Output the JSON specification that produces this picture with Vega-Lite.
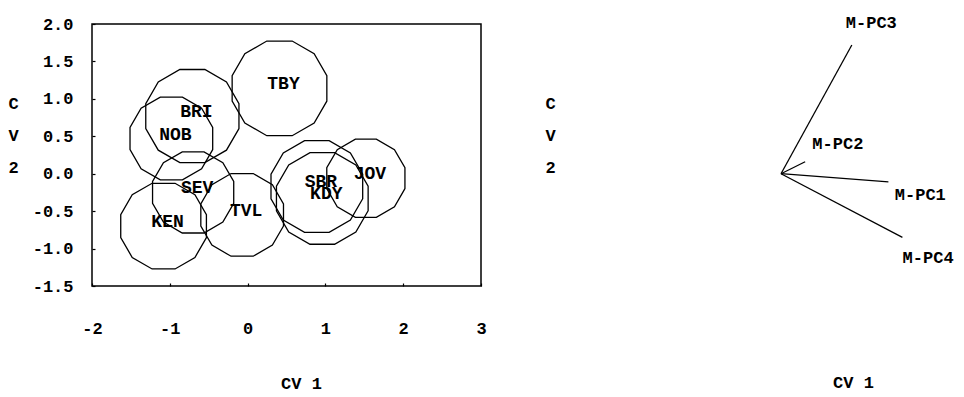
{
  "$schema": "https://vega.github.io/schema/vega-lite/v6.json",
  "padding": {"left": 7, "top": 14, "right": 0, "bottom": 5},
  "background": "white",
  "spacing": 57,
  "config": {
    "font": "Liberation Mono",
    "view": {"stroke": null},
    "axis": {
      "grid": false,
      "domain": false,
      "labelFont": "Liberation Mono",
      "labelFontSize": 17,
      "labelFontWeight": "bold",
      "labelColor": "black",
      "titleFont": "Liberation Mono",
      "titleFontSize": 17,
      "titleFontWeight": "bold",
      "titleColor": "black",
      "tickColor": "black",
      "tickWidth": 1.2
    }
  },
  "hconcat": [
    {
      "width": 389,
      "height": 262,
      "view": {"stroke": "black", "strokeWidth": 1.5},
      "data": {
        "values": [
          {"group": "TBY", "cv1": 0.41, "cv2": 1.14, "radius": 0.63},
          {"group": "BRI", "cv1": -0.71, "cv2": 0.77, "radius": 0.62},
          {"group": "NOB", "cv1": -0.98, "cv2": 0.47, "radius": 0.55},
          {"group": "SEV", "cv1": -0.70, "cv2": -0.25, "radius": 0.54},
          {"group": "KEN", "cv1": -1.08, "cv2": -0.70, "radius": 0.57},
          {"group": "TVL", "cv1": -0.07, "cv2": -0.55, "radius": 0.55},
          {"group": "SBR", "cv1": 0.89, "cv2": -0.17, "radius": 0.61},
          {"group": "KDY", "cv1": 0.96, "cv2": -0.33, "radius": 0.61},
          {"group": "JOV", "cv1": 1.52, "cv2": -0.06, "radius": 0.52}
        ]
      },
      "encoding": {
        "x": {
          "field": "cv1",
          "type": "quantitative",
          "scale": {"domain": [-2, 3], "nice": false, "zero": false},
          "axis": {
            "values": [-2, -1, 0, 1, 2, 3],
            "labelExpr": "toString(datum.value)",
            "tickSize": -3,
            "labelPadding": 37,
            "title": "CV 1",
            "titleAlign": "center",
            "titleBaseline": "middle",
            "titleX": 209,
            "titleY": 97,
            "labelFlush": false
          }
        },
        "y": {
          "field": "cv2",
          "type": "quantitative",
          "scale": {"domain": [-1.5, 2], "nice": false, "zero": false},
          "axis": {
            "values": [-1.5, -1, -0.5, 0, 0.5, 1, 1.5, 2],
            "labelExpr": "datum.value < 0 ? '-' + format(-datum.value, '.1f') : format(datum.value, '.1f')",
            "tickSize": -3,
            "labelPadding": 22,
            "labelFlush": false,
            "title": ["C", "V", "", "2"],
            "titleAngle": 0,
            "titleAlign": "center",
            "titleBaseline": "middle",
            "titleLineHeight": 32,
            "titleX": -79,
            "titleY": 79
          }
        }
      },
      "layer": [
        {
          "mark": {
            "type": "point",
            "shape": "M0.966,0.259L0.707,0.707L0.259,0.966L-0.259,0.966L-0.707,0.707L-0.966,0.259L-0.966,-0.259L-0.707,-0.707L-0.259,-0.966L0.259,-0.966L0.707,-0.707L0.966,-0.259Z",
            "filled": false,
            "stroke": "black",
            "strokeWidth": 1.3,
            "opacity": 1
          },
          "encoding": {
            "size": {
              "field": "radius",
              "type": "quantitative",
              "scale": {"type": "pow", "exponent": 2, "domain": [0, 1], "range": [0, 24211]},
              "legend": null
            }
          }
        },
        {
          "mark": {
            "type": "text",
            "font": "Liberation Mono",
            "fontSize": 18,
            "fontWeight": "bold",
            "color": "black",
            "dx": 4,
            "dy": -4
          },
          "encoding": {"text": {"field": "group"}}
        }
      ]
    },
    {
      "width": 200,
      "height": 262,
      "data": {
        "values": [
          {"name": "M-PC1", "cv1": 1.38, "cv2": -0.11, "label_cv1": 1.79, "label_cv2": -0.29},
          {"name": "M-PC2", "cv1": 0.31, "cv2": 0.16, "label_cv1": 0.73, "label_cv2": 0.40},
          {"name": "M-PC3", "cv1": 0.91, "cv2": 1.72, "label_cv1": 1.16, "label_cv2": 2.01},
          {"name": "M-PC4", "cv1": 1.56, "cv2": -0.85, "label_cv1": 1.89, "label_cv2": -1.12}
        ]
      },
      "layer": [
        {
          "mark": {"type": "rule", "color": "black", "strokeWidth": 1.3},
          "encoding": {
            "x": {
              "field": "cv1",
              "type": "quantitative",
              "scale": {"domain": [-0.36, 2.21], "nice": false, "zero": false},
              "axis": {
                "labels": false,
                "ticks": false,
                "title": "CV 1",
                "titlePadding": 88
              }
            },
            "y": {
              "field": "cv2",
              "type": "quantitative",
              "scale": {"domain": [-1.5, 2], "nice": false, "zero": false},
              "axis": {
                "labels": false,
                "ticks": false,
                "title": ["C", "V", "", "2"],
                "titleAngle": 0,
                "titleAlign": "center",
                "titleBaseline": "middle",
                "titleLineHeight": 32,
                "titleX": -203,
                "titleY": 79
              }
            },
            "x2": {"datum": 0},
            "y2": {"datum": 0}
          }
        },
        {
          "mark": {
            "type": "text",
            "font": "Liberation Mono",
            "fontSize": 17,
            "fontWeight": "bold",
            "color": "black"
          },
          "encoding": {
            "x": {"field": "label_cv1", "type": "quantitative"},
            "y": {"field": "label_cv2", "type": "quantitative"},
            "text": {"field": "name"}
          }
        }
      ]
    }
  ]
}
